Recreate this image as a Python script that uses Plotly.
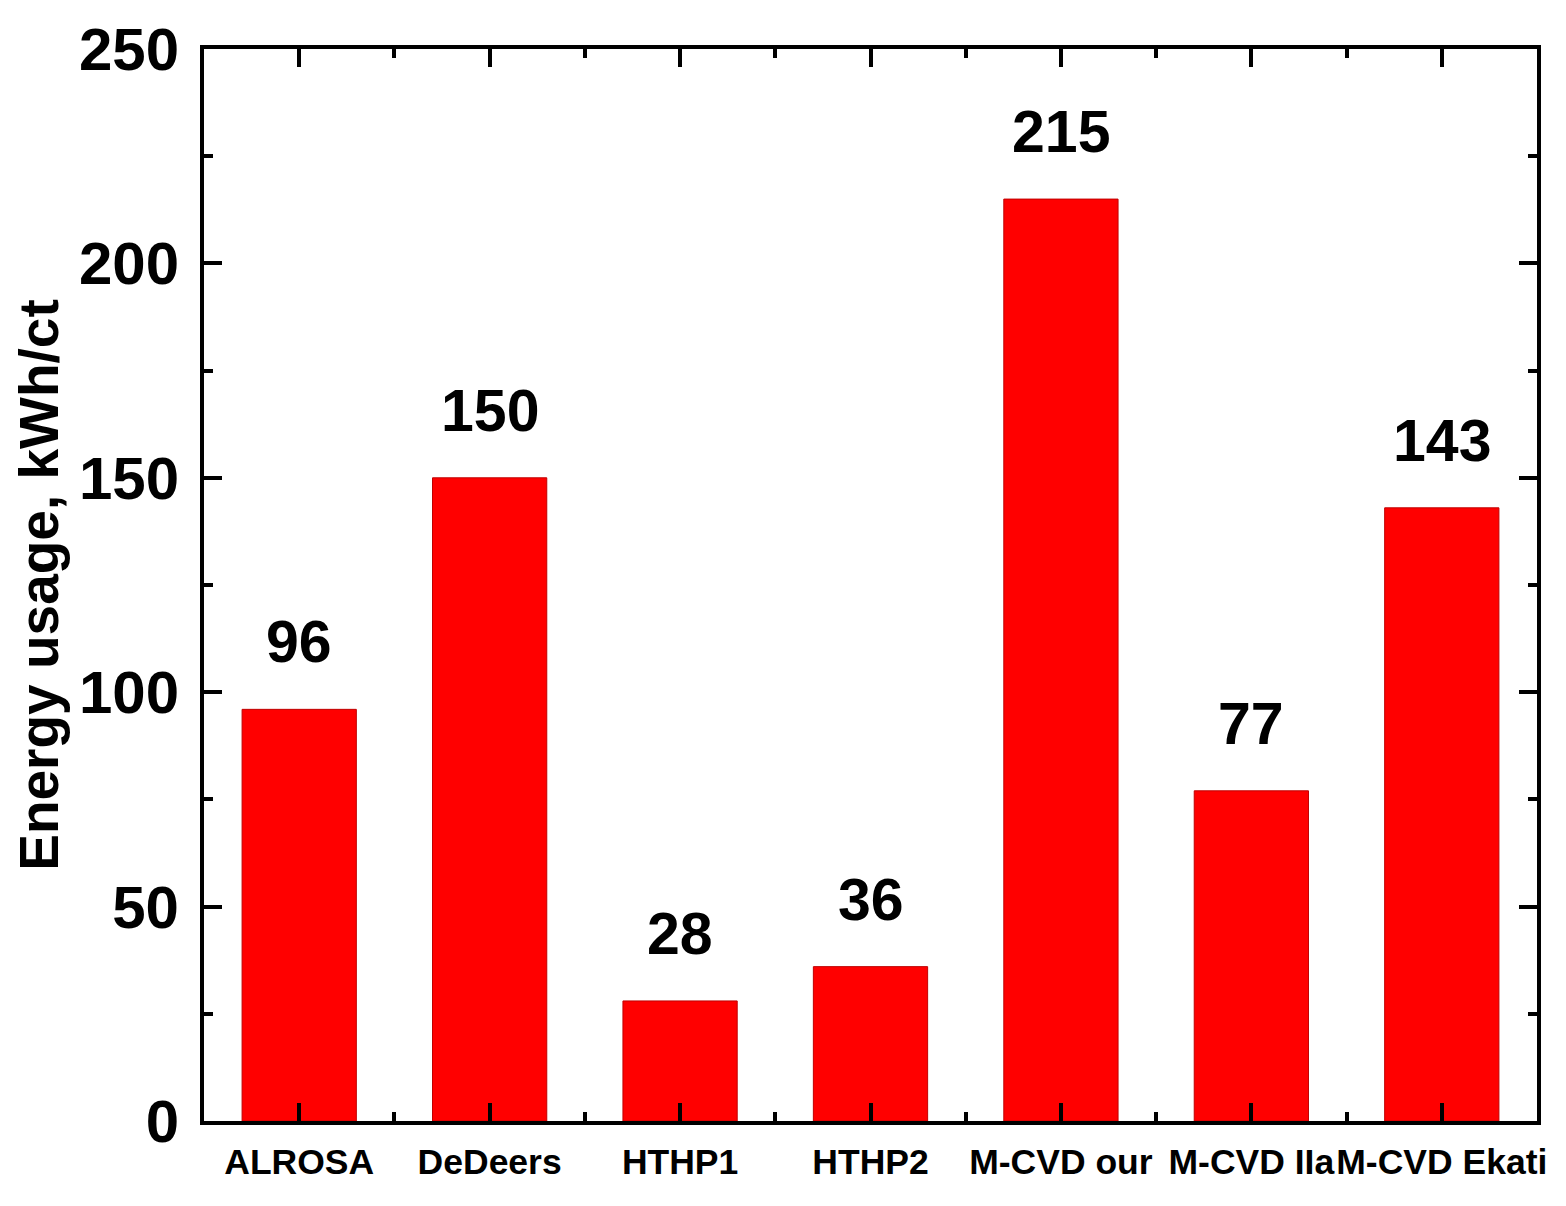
import plotly.graph_objects as go

categories = ["ALROSA", "DeDeers", "HTHP1", "HTHP2", "M-CVD our", "M-CVD IIa", "M-CVD Ekati"]
values = [96, 150, 28, 36, 215, 77, 143]
positions = [1, 2, 3, 4, 5, 6, 7]
y_ticks = [0, 50, 100, 150, 200, 250]

FONT = "Liberation Sans, Arial, sans-serif"

fig = go.Figure()
fig.add_trace(go.Bar(
    x=positions, y=values, width=0.6,
    marker=dict(color="#FF0000", line=dict(color="#c00000", width=1)),
    showlegend=False,
))

for xi, v in zip(positions, values):
    fig.add_annotation(x=xi, y=v, text=str(v), showarrow=False,
                       yanchor="middle", yshift=67,
                       font=dict(family=FONT, size=59, color="black", weight="bold"))

fig.update_layout(
    width=1559, height=1197,
    margin=dict(l=196, r=30, t=41, b=84),
    plot_bgcolor="white", paper_bgcolor="white",
    bargap=0.4,
)
fig.update_xaxes(
    range=[0.5, 7.5], tickmode="array", tickvals=positions, ticktext=categories,
    tickangle=0, automargin=False,
    showline=True, linewidth=4, linecolor="black", mirror="ticks",
    ticks="inside", ticklen=18, tickwidth=4, tickcolor="black",
    showgrid=False, zeroline=False,
    tickfont=dict(family=FONT, size=35.5, color="black", weight="bold"),
    ticklabelstandoff=6,
    minor=dict(tick0=0.5, dtick=1, ticks="inside", ticklen=9, tickwidth=4, tickcolor="black", showgrid=False),
)
fig.update_yaxes(
    range=[0, 250], tickmode="array", tickvals=y_ticks, automargin=False,
    showline=True, linewidth=4, linecolor="black", mirror="ticks",
    ticks="inside", ticklen=18, tickwidth=4, tickcolor="black",
    showgrid=False, zeroline=False,
    tickfont=dict(family=FONT, size=60, color="black", weight="bold"),
    ticklabelstandoff=9,
    minor=dict(tick0=25, dtick=50, ticks="inside", ticklen=9, tickwidth=4, tickcolor="black", showgrid=False),
    title=dict(text="Energy usage, kWh/ct", standoff=24,
               font=dict(family=FONT, size=55, color="black", weight="bold")),
)

fig.write_html("out.html")
